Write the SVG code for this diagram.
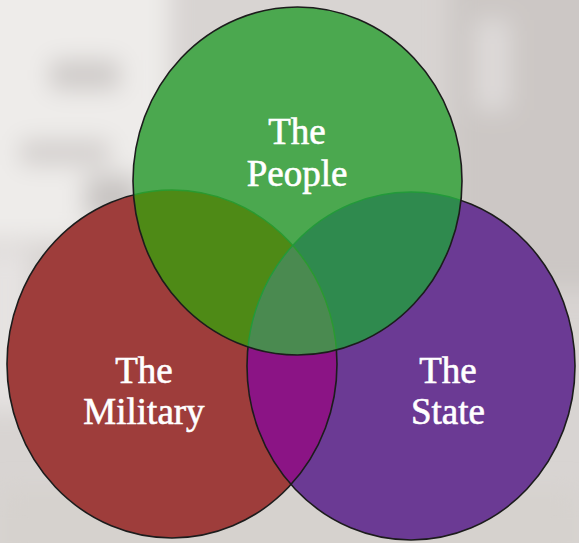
<svg xmlns="http://www.w3.org/2000/svg" xmlns:xlink="http://www.w3.org/1999/xlink" width="579" height="543" viewBox="0 0 579 543">
  <style>
    .lbl { font-family: "Liberation Serif", "Times New Roman", serif; font-size: 37px; fill: #ffffff; stroke: #ffffff; stroke-width: 0.6; text-anchor: middle; }
    .edge { fill: none; stroke: #1c1c1c; stroke-width: 1.6; }
    .inner { fill: none; stroke-width: 1.4; }
  </style>
  <defs>
    <ellipse id="eR" cx="172" cy="364" rx="165" ry="174"/>
    <ellipse id="eP" cx="411" cy="366" rx="164" ry="174"/>
    <ellipse id="eG" cx="297.5" cy="181" rx="164.5" ry="174"/>
    <clipPath id="cR"><use xlink:href="#eR"/></clipPath>
    <clipPath id="cP"><use xlink:href="#eP"/></clipPath>
    <clipPath id="cG"><use xlink:href="#eG"/></clipPath>
    <mask id="mNoG" maskUnits="userSpaceOnUse" x="0" y="0" width="579" height="543">
      <rect width="579" height="543" fill="#fff"/>
      <use xlink:href="#eG" fill="#000"/>
    </mask>
    <filter id="blur" x="-30%" y="-30%" width="160%" height="160%">
      <feGaussianBlur stdDeviation="12"/>
    </filter>
  </defs>

  <!-- faded photographic background -->
  <g id="background">
    <rect width="579" height="543" fill="#d8d4d2"/>
    <g filter="url(#blur)">
      <rect x="-30" y="-30" width="200" height="270" fill="#eeecea"/>
      <rect x="50" y="60" width="70" height="30" fill="#cdc9c7"/>
      <rect x="20" y="140" width="90" height="25" fill="#d2cecc"/>
      <rect x="85" y="175" width="55" height="45" fill="#c8c4c2"/>
      <rect x="450" y="-30" width="160" height="320" fill="#ccc7c5"/>
      <rect x="475" y="20" width="35" height="90" fill="#dedad9"/>
      <rect x="-20" y="250" width="50" height="160" fill="#e6e3e2"/>
      <rect x="0" y="490" width="579" height="80" fill="#d6d2ce"/>
    </g>
  </g>

  <!-- circle fills -->
  <g id="military">
    <use xlink:href="#eR" fill="#9e3d3b"/>
  </g>
  <g id="state">
    <use xlink:href="#eP" fill="#6b3a94"/>
  </g>
  <g id="people">
    <use xlink:href="#eG" fill="#4ba84f"/>
  </g>

  <!-- overlap regions -->
  <g id="overlaps">
    <g clip-path="url(#cR)"><use xlink:href="#eP" fill="#8b1485"/></g>
    <g clip-path="url(#cR)"><use xlink:href="#eG" fill="#4e8a16"/></g>
    <g clip-path="url(#cP)"><use xlink:href="#eG" fill="#2f8a4e"/></g>
    <g clip-path="url(#cR)"><g clip-path="url(#cP)"><use xlink:href="#eG" fill="#4a8a50"/></g></g>
  </g>

  <!-- outlines -->
  <g id="connectors">
    <g mask="url(#mNoG)">
      <use xlink:href="#eR" class="edge"/>
      <use xlink:href="#eP" class="edge"/>
    </g>
    <g clip-path="url(#cG)">
      <use xlink:href="#eR" class="inner" stroke="#2a9a30"/>
      <use xlink:href="#eP" class="inner" stroke="#239a3a"/>
    </g>
    <use xlink:href="#eG" class="edge"/>
  </g>

  <!-- labels -->
  <g id="labels">
    <text class="lbl" x="297" y="144">The</text>
    <text class="lbl" x="297" y="186">People</text>
    <text class="lbl" x="144" y="383">The</text>
    <text class="lbl" x="144" y="424">Military</text>
    <text class="lbl" x="448" y="383">The</text>
    <text class="lbl" x="448" y="424">State</text>
  </g>
</svg>
